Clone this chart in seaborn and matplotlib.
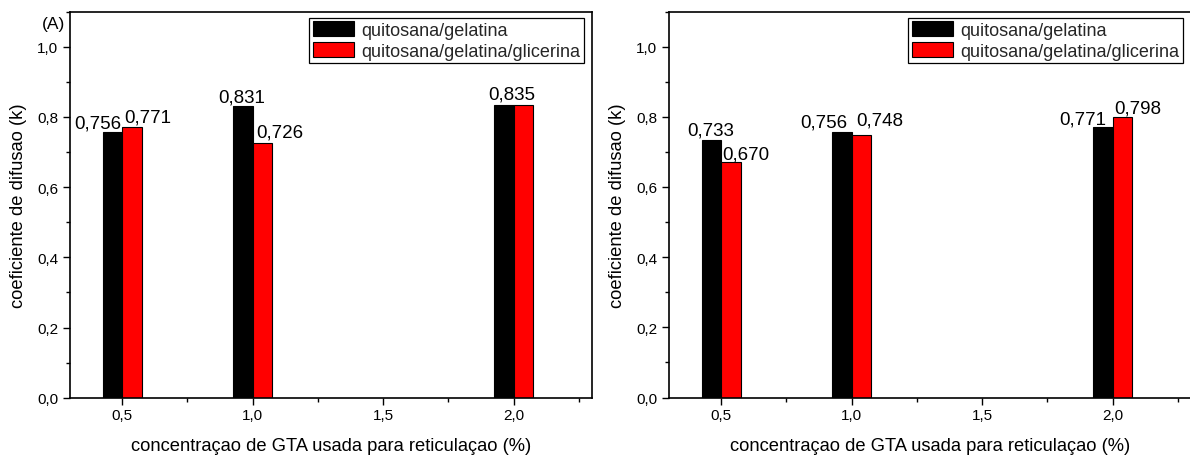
import matplotlib
matplotlib.use("Agg")
import matplotlib.pyplot as plt
from matplotlib.patches import Patch
from matplotlib.ticker import MultipleLocator, FuncFormatter
import seaborn as sns
import pandas as pd

# ---- data ----
concentracao = [0.5, 1.0, 2.0]
series_names = ["quitosana/gelatina", "quitosana/gelatina/glicerina"]
left_gelatina = [0.756, 0.831, 0.835]
left_glicerina = [0.771, 0.726, 0.835]
right_gelatina = [0.733, 0.756, 0.771]
right_glicerina = [0.670, 0.748, 0.798]
colors = ["#000000", "#FF0000"]
x_label = "concentraçao de GTA usada para reticulaçao (%)"
y_label = "coeficiente de difusao (k)"

# label offsets (pixels) relative to bar centre: (dx, dy); None = no label
left_offsets = [[(-15, 5), (-1, 5), (8, 6)],
                [(16, 6), (17, 6), None]]
right_offsets = [[(-1, 6), (-18, 6), (-20, 3)],
                 [(15, 4), (18, 11), (15, 5)]]

sns.set_style("ticks")
plt.rcParams["font.family"] = ["Liberation Sans", "DejaVu Sans"]

fig = plt.figure(figsize=(11.9, 4.56), dpi=100)
ax_l = fig.add_axes([70 / 1190, 57.3 / 456, 522 / 1190, 386 / 456])
ax_r = fig.add_axes([669 / 1190, 57.5 / 456, 524 / 1190, 386 / 456])

comma = FuncFormatter(lambda v, p: f"{v:.1f}".replace(".", ","))


def draw(ax, s1, s2, offsets, xmax, tag=None):
    df = pd.DataFrame({
        "conc": concentracao * 2,
        "k": list(s1) + list(s2),
        "serie": [series_names[0]] * len(s1) + [series_names[1]] * len(s2),
    })
    sns.barplot(data=df, x="conc", y="k", hue="serie", hue_order=series_names,
                palette=colors, native_scale=True, width=0.3,
                edgecolor="black", linewidth=0.8, legend=False, ax=ax,
                errorbar=None, saturation=1)
    ax.set_xlim(0.3, xmax)
    ax.set_ylim(0, 1.1)
    ax.xaxis.set_major_locator(MultipleLocator(0.5))
    ax.xaxis.set_minor_locator(MultipleLocator(0.25))
    ax.yaxis.set_major_locator(MultipleLocator(0.2))
    ax.yaxis.set_minor_locator(MultipleLocator(0.1))
    ax.xaxis.set_major_formatter(comma)
    ax.yaxis.set_major_formatter(comma)
    ax.tick_params(which="major", direction="out", length=5, width=1,
                   labelsize=11, color="black", labelcolor="black",
                   top=False, right=False)
    ax.tick_params(axis="x", which="major", pad=2.5)
    ax.tick_params(axis="y", which="major", pad=3.5)
    ax.tick_params(which="minor", direction="out", length=3, width=1,
                   color="black", top=False, right=False)
    for sp in ax.spines.values():
        sp.set_visible(True)
        sp.set_color("black")
        sp.set_linewidth(1.2)
    ax.set_xlabel(x_label, fontsize=13.2, color="black")
    ax.set_ylabel(y_label, fontsize=13.2, color="black")
    ax.xaxis.set_label_coords(0.5 * 522 / (ax.get_position().width * 1190), -0.102)
    ax.yaxis.set_label_coords(-0.083 * 522 / (ax.get_position().width * 1190), 0.5)

    # value labels
    for ci, cont in enumerate(ax.containers):
        bars = sorted(cont.patches, key=lambda b: b.get_x())
        for bi, bar in enumerate(bars):
            off = offsets[ci][bi]
            if off is None:
                continue
            xc = bar.get_x() + bar.get_width() / 2
            h = bar.get_height()
            ax.annotate(f"{h:.3f}".replace(".", ","), (xc, h),
                        xytext=off, textcoords="offset pixels",
                        ha="center", va="baseline", fontsize=13.5,
                        color="black")

    handles = [Patch(facecolor=c, edgecolor="black", linewidth=0.8) for c in colors]
    w_px = ax.get_position().width * 1190
    leg = ax.legend(handles, series_names, loc="upper right",
                    bbox_to_anchor=(1 - (8 + w_px - 522) / w_px, 1 - 6 / 386),
                    borderaxespad=0, fontsize=13, frameon=True, fancybox=False,
                    framealpha=1, edgecolor="black", borderpad=0.2,
                    handlelength=2.3, handleheight=0.85, handletextpad=0.4,
                    labelspacing=0.2)
    leg.get_frame().set_linewidth(0.9)

    if tag:
        ax.text(-0.01, 0.97, tag, transform=ax.transAxes, ha="right",
                va="center", fontsize=12.5, color="black")


draw(ax_l, left_gelatina, left_glicerina, left_offsets, 2.3, tag="(A)")
draw(ax_r, right_gelatina, right_glicerina, right_offsets, 2.3 + 2 / 261)

fig.savefig("out.png", dpi=100)
